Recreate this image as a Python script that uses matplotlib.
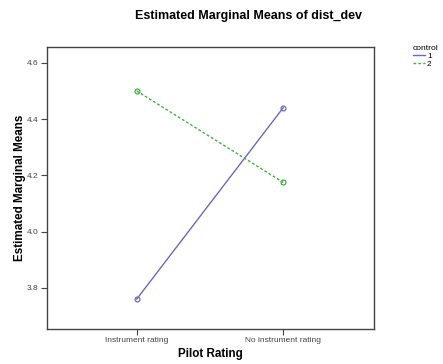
import numpy as np
import matplotlib
matplotlib.use("Agg")
import matplotlib.pyplot as plt

plt.rcParams['font.family'] = ['Liberation Sans', 'DejaVu Sans']

categories = ["Instrument rating", "No instrument rating"]
control_1 = [3.76, 4.44]
control_2 = [4.50, 4.175]
yticks = [3.8, 4.0, 4.2, 4.4, 4.6]

fig = plt.figure(figsize=(4.43, 3.64), dpi=100)
ax = fig.add_axes([47/443, 1 - 329/364, 327/443, 282/364])

x = np.arange(len(categories))
ax.plot(x, control_1, color='#6a6ab8', lw=1.0, marker='o', ms=3.5,
        mfc='none', mec='#6a6ab8', mew=0.9, label='1')
ax.plot(x, control_2, color='#44b044', lw=1.0, ls=(0, (2, 1.5)), marker='o', ms=3.5,
        mfc='none', mec='#44b044', mew=0.9, label='2')

ax.set_xlim(-0.612, 1.62)
ax.set_ylim(3.654, 4.656)
ax.set_xticks(x)
ax.set_xticklabels(categories, fontsize=6, color='#444444')
ax.set_yticks(yticks)
ax.set_yticklabels([f"{v:.1f}" for v in yticks], fontsize=6, color='#444444')
ax.tick_params(direction='out', length=4, width=0.8, color='#444444', pad=2)
for s in ax.spines.values():
    s.set_linewidth(1.0)
    s.set_color('#444444')

ax.set_xlabel("Pilot Rating", fontsize=8.4, fontweight='bold', labelpad=3)
ax.set_ylabel("Estimated Marginal Means", fontsize=8.4, fontweight='bold', labelpad=1)
fig.text(249/443, 1 - 16/364, "Estimated Marginal Means of dist_dev",
         fontsize=9, fontweight='bold', ha='center', va='center')

leg = ax.legend(loc='upper left', bbox_to_anchor=(407/443, 1 - 39/364),
                bbox_transform=fig.transFigure, frameon=False, title='control',
                fontsize=6, title_fontsize=6, handlelength=1.4,
                handletextpad=0.3, labelspacing=0.0, borderpad=0.2)
leg._legend_box.align = 'left'
for h in leg.legend_handles:
    h.set_marker('')

fig.savefig("out.png", dpi=100)
